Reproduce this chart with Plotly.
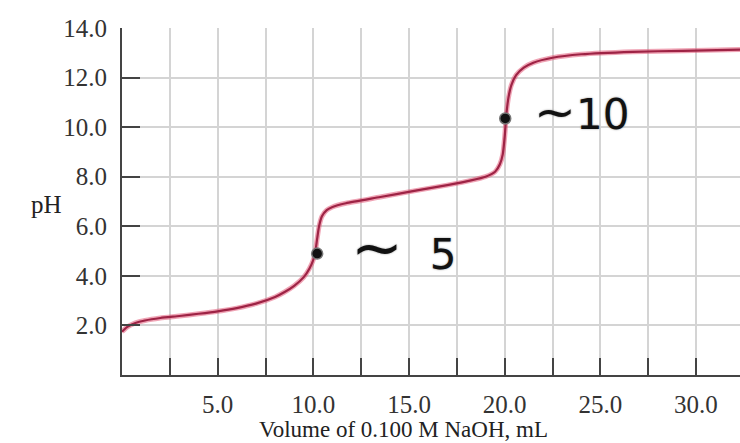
import plotly.graph_objects as go

# Titration curve
volume_ml = [0, 0.3, 0.7, 1.2, 2.0, 3.0, 4.0, 5.0, 6.0, 7.0, 8.0, 8.5, 9.0, 9.5, 9.8,
             10.0, 10.1, 10.2, 10.3, 10.45, 10.7, 11.0, 11.7, 13.5, 15.2, 17.0, 18.3,
             19.0, 19.5, 19.75, 19.9, 20.0, 20.1, 20.2, 20.35, 20.6, 21.0, 21.5, 22.5,
             24.0, 26.7, 29.3, 32.3]
ph_values = [1.75, 1.95, 2.1, 2.2, 2.3, 2.38, 2.47, 2.57, 2.7, 2.88, 3.15, 3.35, 3.6, 3.95, 4.3,
             4.65, 4.95, 5.5, 6.0, 6.4, 6.65, 6.78, 6.93, 7.18, 7.42, 7.66, 7.86,
             8.0, 8.2, 8.5, 8.9, 9.6, 10.6, 11.2, 11.7, 12.1, 12.4, 12.6, 12.8,
             12.94, 13.04, 13.08, 13.13]

# Hand-drawn marks
mark_volume = [10.2, 20.03]
mark_ph = [4.9, 10.35]
mark_values = ["5", "10"]

x_tick_vals = [2.5, 5, 7.5, 10, 12.5, 15, 17.5, 20, 22.5, 25, 27.5, 30]
x_tick_text = ["", "5.0", "", "10.0", "", "15.0", "", "20.0", "", "25.0", "", "30.0"]
y_tick_vals = [2, 4, 6, 8, 10, 12, 14]
y_tick_text = ["2.0", "4.0", "6.0", "8.0", "10.0", "12.0", "14.0"]

serif = "Liberation Serif, Times New Roman, serif"

fig = go.Figure()
fig.add_trace(go.Scatter(x=volume_ml, y=ph_values, mode="lines",
                         line=dict(color="rgba(225,90,120,0.55)", width=5, shape="spline", smoothing=0.6),
                         hoverinfo="skip", showlegend=False))
fig.add_trace(go.Scatter(x=volume_ml, y=ph_values, mode="lines",
                         line=dict(color="#9e2345", width=2.2, shape="spline", smoothing=0.6),
                         showlegend=False))
fig.add_trace(go.Scatter(x=mark_volume, y=mark_ph, mode="markers",
                         marker=dict(color="#111", size=11, line=dict(color="#777", width=1.5)),
                         showlegend=False))

tilde_sizes = [62, 50]
gaps = ["\u00a0\u00a0", ""]
for vx, vy, val, shift, tsz, gap in zip(mark_volume, mark_ph, mark_values, [32, 27], tilde_sizes, gaps):
    txt = f"<span style='font-size:{tsz}px'>~</span>{gap}{val}"
    fig.add_annotation(x=vx, y=vy, text=txt, showarrow=False, xanchor="left",
                       xshift=shift, yshift=6,
                       font=dict(family="DejaVu Sans", size=42, color="#111",
                                 shadow="0px 0px 2px #888"))

fig.add_annotation(xref="paper", yref="paper", x=0.456, y=-0.156, yanchor="middle",
                   text="Volume of 0.100 M NaOH, mL", showarrow=False,
                   font=dict(family=serif, size=23, color="#222"))
fig.add_annotation(xref="paper", yref="paper", x=-0.150, y=0.49,
                   text="pH", showarrow=False,
                   font=dict(family=serif, size=25, color="#222"))

fig.update_xaxes(range=[0, 32.3], tickvals=x_tick_vals, ticktext=x_tick_text,
                 ticks="inside", ticklen=17, tickwidth=2, tickcolor="#444",
                 showline=True, linecolor="#444", linewidth=2,
                 showgrid=True, gridcolor="#d4d4d4", gridwidth=1.5,
                 zeroline=False, ticklabelstandoff=6,
                 tickfont=dict(family=serif, size=25, color="#333"))
fig.update_yaxes(range=[0, 14], tickvals=y_tick_vals, ticktext=y_tick_text,
                 ticks="inside", ticklen=18, tickwidth=2, tickcolor="#444",
                 showline=True, linecolor="#444", linewidth=2,
                 showgrid=True, gridcolor="#d4d4d4", gridwidth=1.5,
                 zeroline=False, ticklabelstandoff=8,
                 tickfont=dict(family=serif, size=25, color="#333"))

fig.update_layout(width=740, height=443, margin=dict(l=122, r=0, t=28, b=68),
                  plot_bgcolor="white", paper_bgcolor="white", showlegend=False)

fig.write_html("out.html", config={"displayModeBar": False},
               post_script="document.body.style.margin='0';")
